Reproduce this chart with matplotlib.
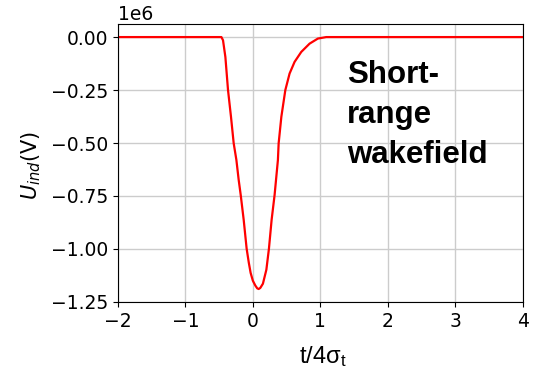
import matplotlib.pyplot as plt

t = [-2.0, -0.466, -0.442, -0.407, -0.368, -0.324, -0.284, -0.244, -0.210,
     -0.180, -0.136, -0.092, -0.060, -0.033, 0.000, 0.037, 0.065, 0.086,
     0.110, 0.149, 0.200, 0.238, 0.278, 0.322, 0.371, 0.382, 0.422, 0.481,
     0.544, 0.618, 0.717, 0.840, 0.963, 1.087, 4.0]
u_ind = [0.0, 0.0, -0.015, -0.094, -0.250, -0.376, -0.501, -0.580, -0.674,
         -0.745, -0.862, -0.999, -1.065, -1.113, -1.150, -1.173, -1.186, -1.189,
         -1.184, -1.164, -1.098, -0.999, -0.862, -0.745, -0.580, -0.501, -0.376,
         -0.250, -0.172, -0.117, -0.070, -0.031, -0.007, 0.0, 0.0]
u_ind = [v * 1e6 for v in u_ind]

fig = plt.figure(figsize=(5.38, 3.70), dpi=100)
ax = fig.add_axes([0.219, 0.184, 0.753, 0.751])

ax.plot(t, u_ind, color='red', lw=1.6)
ax.set_xlim(-2, 4)
ax.set_ylim(-1.25e6, 0.0615e6)
ax.set_xticks([-2, -1, 0, 1, 2, 3, 4])
ax.set_yticks([0, -0.25e6, -0.5e6, -0.75e6, -1.0e6, -1.25e6])
ax.grid(True, color='#cccccc', lw=1)
ax.tick_params(labelsize=13.5)
ax.yaxis.get_offset_text().set_fontsize(13.5)
ax.set_ylabel(r'$U_{ind}$(V)', fontsize=15)
ax.yaxis.set_label_coords(-0.185, 0.49)

ax.text(0.565, 0.872, 'Short-\nrange\nwakefield', transform=ax.transAxes,
        family='Liberation Sans', weight='bold', fontsize=22.5,
        va='top', ha='left', linespacing=1.45)

fig.text(0.600, 0.0197, r't/4$\mathregular{\sigma_t}$', family='Liberation Sans',
         fontsize=17, ha='center', va='baseline')

fig.savefig('out.png', dpi=100)
